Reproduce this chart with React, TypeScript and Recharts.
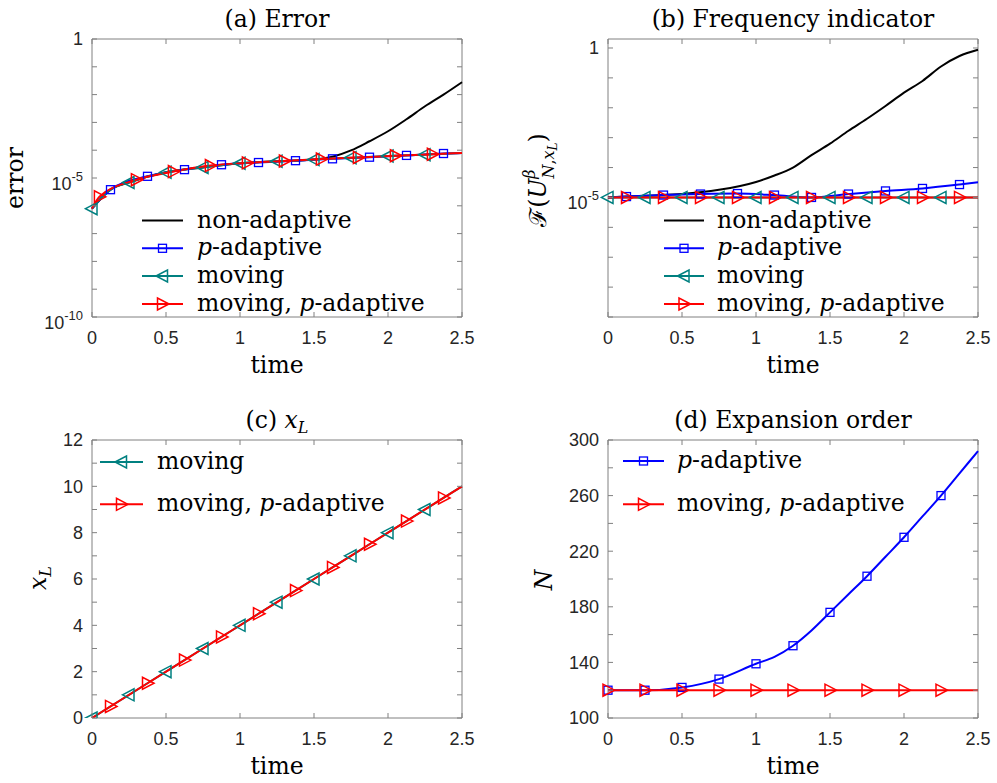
import React from 'react';
import { LineChart, Line, XAxis, YAxis, ReferenceArea } from 'recharts';

// ---- data ----
const TIME_TICKS = [0, 0.5, 1, 1.5, 2, 2.5];
const MARK_EVEN = [0, 0.25, 0.5, 0.75, 1, 1.25, 1.5, 1.75, 2, 2.25];
const MARK_ODD = [0.125, 0.375, 0.625, 0.875, 1.125, 1.375, 1.625, 1.875, 2.125, 2.375];
const MARK_A_RED = [0.05, 0.3, 0.55, 0.8, 1.05, 1.3, 1.55, 1.8, 2.05, 2.3];

// (a) error
const A_T_BLACK = [0, 0.125, 0.25, 0.5, 0.75, 1, 1.25, 1.5, 1.625, 1.75, 1.875, 2, 2.125, 2.25, 2.375, 2.5];
const A_BLACK = [7.9e-7, 3.8e-6, 6.9e-6, 1.6e-5, 2.4e-5, 3.4e-5, 4.0e-5, 4.6e-5, 5.8e-5, 9.8e-5, 2.1e-4, 4.8e-4, 1.3e-3, 3.8e-3, 1.0e-2, 2.8e-2];
const A_T_BLUE = [0, 0.125, 0.375, 0.625, 0.875, 1.125, 1.375, 1.625, 1.875, 2.125, 2.375, 2.5];
const A_BLUE = [7.9e-7, 3.8e-6, 1.15e-5, 2.0e-5, 3.0e-5, 3.6e-5, 4.2e-5, 4.9e-5, 5.6e-5, 6.5e-5, 7.6e-5, 7.9e-5];
const A_T_TEAL = [0, 0.125, 0.25, 0.5, 0.75, 1, 1.25, 1.5, 1.75, 2, 2.25, 2.5];
const A_TEAL = [7.9e-7, 3.8e-6, 6.9e-6, 1.6e-5, 2.4e-5, 3.4e-5, 4.0e-5, 4.6e-5, 5.4e-5, 6.2e-5, 6.9e-5, 7.9e-5];
const A_T_RED = [0, 0.05, 0.3, 0.55, 0.8, 1.05, 1.3, 1.55, 1.8, 2.05, 2.3, 2.5];
const A_RED = [7.9e-7, 2.1e-6, 8.7e-6, 1.7e-5, 2.8e-5, 3.5e-5, 4.1e-5, 4.8e-5, 5.5e-5, 6.3e-5, 7.2e-5, 7.9e-5];
const A_Y_TICKS = [1e-10, 1e-9, 1e-8, 1e-7, 1e-6, 1e-5, 1e-4, 1e-3, 1e-2, 1e-1, 1];
const A_Y_LABELS = [1e-10, 1e-5, 1];

// (b) frequency indicator
const B_T_BLACK = [0, 0.25, 0.5, 0.75, 1, 1.125, 1.25, 1.375, 1.5, 1.625, 1.75, 1.875, 2, 2.125, 2.25, 2.375, 2.5];
const B_BLACK = [1e-5, 1.15e-5, 1.3e-5, 1.8e-5, 3.3e-5, 5.4e-5, 1e-4, 2.6e-4, 6.3e-4, 1.7e-3, 4.3e-3, 1.15e-2, 3.2e-2, 7.9e-2, 0.24, 0.54, 0.87];
const B_T_BLUE = [0, 0.125, 0.375, 0.625, 0.875, 1.125, 1.375, 1.625, 1.875, 2.125, 2.375, 2.5];
const B_BLUE = [1e-5, 1.07e-5, 1.2e-5, 1.3e-5, 1.35e-5, 1.2e-5, 1.0e-5, 1.3e-5, 1.65e-5, 2.0e-5, 2.7e-5, 3.2e-5];
const B_T_TEAL = [0, 0.25, 0.5, 0.75, 1, 1.25, 1.5, 1.75, 2, 2.25, 2.5];
const B_TEAL = [1e-5, 1e-5, 1e-5, 1e-5, 1e-5, 1e-5, 1e-5, 1e-5, 1e-5, 1e-5, 1e-5];
const B_T_RED = [0, 0.125, 0.375, 0.625, 0.875, 1.125, 1.375, 1.625, 1.875, 2.125, 2.375, 2.5];
const B_RED = [1e-5, 1e-5, 1e-5, 1e-5, 1e-5, 1e-5, 1e-5, 1e-5, 1e-5, 1e-5, 1e-5, 1e-5];
const B_Y_TICKS = [1e-9, 1e-8, 1e-7, 1e-6, 1e-5, 1e-4, 1e-3, 1e-2, 1e-1, 1];
const B_Y_LABELS = [1e-5, 1];

// (c) x_L
const C_T_TEAL = [0, 0.25, 0.5, 0.75, 1, 1.25, 1.5, 1.75, 2, 2.25, 2.5];
const C_TEAL = [0, 1, 2, 3, 4, 5, 6, 7, 8, 9, 10];
const C_T_RED = [0, 0.125, 0.375, 0.625, 0.875, 1.125, 1.375, 1.625, 1.875, 2.125, 2.375, 2.5];
const C_RED = [0, 0.5, 1.5, 2.5, 3.5, 4.5, 5.5, 6.5, 7.5, 8.5, 9.5, 10];
const C_Y_TICKS = [0, 1, 2, 3, 4, 5, 6, 7, 8, 9, 10, 11, 12];
const C_Y_LABELS = [0, 2, 4, 6, 8, 10, 12];

// (d) expansion order
const D_T_BLUE = [0, 0.25, 0.5, 0.75, 1, 1.125, 1.25, 1.375, 1.5, 1.625, 1.75, 1.875, 2, 2.125, 2.25, 2.375, 2.5];
const D_BLUE = [120, 120, 122, 128, 139, 144, 152, 163, 176, 189, 202, 216, 230, 245, 260, 276, 292];
const D_T_RED = [0, 0.25, 0.5, 0.75, 1, 1.25, 1.5, 1.75, 2, 2.25, 2.5];
const D_RED = [120, 120, 120, 120, 120, 120, 120, 120, 120, 120, 120];
const D_Y_TICKS = [100, 120, 140, 160, 180, 200, 220, 240, 260, 280, 300];
const D_Y_LABELS = [100, 140, 180, 220, 260, 300];

// ---- styles ----
const PW = 370;
const PH = 278;
const AXIS = '#808080';
const TICK_FONT = '"Liberation Sans", Arial, sans-serif';
const SERIF = '"DejaVu Serif", serif';
const FS = 23.5;
const C_BLACK = '#000000';
const C_BLUE = '#0000ff';
const C_TEALC = '#008080';
const C_REDC = '#ff0000';

const pts = (ts: number[], vs: number[]) => ts.map((t, i) => ({ t, v: vs[i] }));

type Shape = 'none' | 'square' | 'left' | 'right';
interface Series { name: string; color: string; shape: Shape; data: { t: number; v: number }[]; marks: number[] }

const SER = {
  black: { name: 'non-adaptive', color: C_BLACK, shape: 'none' as Shape },
  blue: { name: 'p-adaptive', color: C_BLUE, shape: 'square' as Shape },
  teal: { name: 'moving', color: C_TEALC, shape: 'left' as Shape },
  red: { name: 'moving, p-adaptive', color: C_REDC, shape: 'right' as Shape },
};

const A_SERIES: Series[] = [
  { ...SER.black, data: pts(A_T_BLACK, A_BLACK), marks: [] },
  { ...SER.blue, data: pts(A_T_BLUE, A_BLUE), marks: MARK_ODD },
  { ...SER.teal, data: pts(A_T_TEAL, A_TEAL), marks: MARK_EVEN },
  { ...SER.red, data: pts(A_T_RED, A_RED), marks: MARK_A_RED },
];
const B_SERIES: Series[] = [
  { ...SER.black, data: pts(B_T_BLACK, B_BLACK), marks: [] },
  { ...SER.blue, data: pts(B_T_BLUE, B_BLUE), marks: MARK_ODD },
  { ...SER.teal, data: pts(B_T_TEAL, B_TEAL), marks: MARK_EVEN },
  { ...SER.red, data: pts(B_T_RED, B_RED), marks: MARK_ODD },
];
const C_SERIES: Series[] = [
  { ...SER.teal, data: pts(C_T_TEAL, C_TEAL), marks: MARK_EVEN },
  { ...SER.red, data: pts(C_T_RED, C_RED), marks: MARK_ODD },
];
const D_SERIES: Series[] = [
  { ...SER.blue, data: pts(D_T_BLUE, D_BLUE), marks: MARK_EVEN },
  { ...SER.red, data: pts(D_T_RED, D_RED), marks: MARK_EVEN },
];

function Marker({ shape, color, cx, cy }: { shape: Shape; color: string; cx: number; cy: number }) {
  if (shape === 'square')
    return <rect x={cx - 4} y={cy - 4} width={8} height={8} fill="none" stroke={color} strokeWidth={1.3} />;
  if (shape === 'left')
    return <polygon points={`${cx - 6.5},${cy} ${cx + 5},${cy - 6} ${cx + 5},${cy + 6}`} fill="none" stroke={color} strokeWidth={1.5} />;
  if (shape === 'right')
    return <polygon points={`${cx + 6.5},${cy} ${cx - 5},${cy - 6} ${cx - 5},${cy + 6}`} fill="none" stroke={color} strokeWidth={1.5} />;
  return null;
}

const markerDot = (s: Series) => (p: any) => {
  const on = s.marks.some((m) => Math.abs(m - p.payload.t) < 1e-6);
  if (!on || p.cx == null || p.cy == null) return <g key={`d${p.index}`} />;
  return (
    <g key={`d${p.index}`}>
      <Marker shape={s.shape} color={s.color} cx={p.cx} cy={p.cy} />
    </g>
  );
};

function XTick(props: any) {
  const { x, y, payload } = props;
  return (
    <g>
      <line x1={x} y1={y} x2={x} y2={y - 5} stroke={AXIS} />
      <line x1={x} y1={y - PH} x2={x} y2={y - PH + 5} stroke={AXIS} />
      <text x={x} y={y + 27} textAnchor="middle" fontFamily={TICK_FONT} fontSize={18} fill="#262626">
        {String(payload.value)}
      </text>
    </g>
  );
}

function YTick(props: any) {
  const { x, y, payload, labeled, log } = props;
  const v = payload.value;
  const show = labeled.some((l: number) => Math.abs(l - v) <= Math.abs(l) * 1e-6);
  let label = null;
  if (show) {
    if (log && v !== 1) {
      const e = Math.round(Math.log10(v));
      label = (
        <text x={x - 9} y={y + 12} textAnchor="end" fontFamily={TICK_FONT} fontSize={18} fill="#262626">
          <tspan>10</tspan>
          <tspan fontSize={13} dy={-9.5}>{String(e)}</tspan>
        </text>
      );
    } else {
      label = (
        <text x={x - 9} y={y} dy="0.35em" textAnchor="end" fontFamily={TICK_FONT} fontSize={18} fill="#262626">
          {String(v)}
        </text>
      );
    }
  }
  return (
    <g>
      <line x1={x} y1={y} x2={x + 5} y2={y} stroke={AXIS} />
      <line x1={x + PW} y1={y} x2={x + PW - 5} y2={y} stroke={AXIS} />
      {label}
    </g>
  );
}

interface PanelProps {
  left: number; top: number; mt: number; mr: number; yw: number; xh: number;
  log: boolean; yDomain: [number, number]; yTicks: number[]; yLabels: number[]; series: Series[];
}

function Panel({ left, top, mt, mr, yw, xh, log, yDomain, yTicks, yLabels, series }: PanelProps) {
  return (
    <div style={{ position: 'absolute', left, top }}>
      <LineChart width={497} height={390} margin={{ top: mt, right: mr, bottom: 0, left: 0 }}>
        <XAxis
          dataKey="t" type="number" domain={[0, 2.5]} ticks={TIME_TICKS} interval={0}
          height={xh} tickSize={0} tickMargin={0} axisLine={false} tickLine={false}
          tick={<XTick />}
          label={{ value: 'time', position: 'insideBottom', offset: xh - 56, fill: '#000', fontSize: FS, fontFamily: SERIF }}
        />
        <YAxis
          type="number" scale={log ? 'log' : 'linear'} domain={yDomain} allowDataOverflow ticks={yTicks} interval={0}
          width={yw} tickSize={0} tickMargin={0} axisLine={false} tickLine={false}
          tick={<YTick labeled={yLabels} log={log} />}
        />
        <ReferenceArea x1={0} x2={2.5} y1={yDomain[0]} y2={yDomain[1]} fill="none" stroke={AXIS} strokeWidth={1} ifOverflow="visible" />
        {series.map((s) => (
          <Line
            key={s.name}
            data={s.data}
            dataKey="v"
            type="monotone"
            stroke={s.color}
            strokeWidth={2}
            dot={s.shape === 'none' ? false : markerDot(s)}
            activeDot={false}
            isAnimationActive={false}
          />
        ))}
      </LineChart>
    </div>
  );
}

function LegendBox({ series, x0, x1, tx, rows }: { series: Series[]; x0: number; x1: number; tx: number; rows: number[] }) {
  return (
    <g>
      {series.map((s, i) => {
        const k = s.name.indexOf('p-adaptive');
        return (
          <g key={s.name}>
            <line x1={x0} y1={rows[i]} x2={x1} y2={rows[i]} stroke={s.color} strokeWidth={2} />
            <Marker shape={s.shape} color={s.color} cx={(x0 + x1) / 2} cy={rows[i]} />
            <text x={tx} y={rows[i] + 7} style={{ fontFamily: SERIF, fontSize: FS }} fill="#000">
              {k < 0 ? s.name : s.name.slice(0, k)}
              {k >= 0 && <tspan fontStyle="italic">p</tspan>}
              {k >= 0 && s.name.slice(k + 1)}
            </text>
          </g>
        );
      })}
    </g>
  );
}

export default function App() {
  const titleProps = { fontFamily: SERIF, fontSize: FS, fill: '#000', textAnchor: 'middle' as const };
  return (
    <div style={{ position: 'absolute', left: 0, top: 0, width: 997, height: 783, background: '#fff', overflow: 'hidden' }}>
      <Panel left={0} top={0} mt={39} mr={35} yw={92} xh={73} log yDomain={[1e-10, 1]} yTicks={A_Y_TICKS} yLabels={A_Y_LABELS} series={A_SERIES} />
      <Panel left={497} top={0} mt={39} mr={16} yw={111} xh={73} log yDomain={[1e-9, 2]} yTicks={B_Y_TICKS} yLabels={B_Y_LABELS} series={B_SERIES} />
      <Panel left={0} top={390} mt={50} mr={35} yw={92} xh={62} log={false} yDomain={[0, 12]} yTicks={C_Y_TICKS} yLabels={C_Y_LABELS} series={C_SERIES} />
      <Panel left={497} top={390} mt={50} mr={16} yw={111} xh={62} log={false} yDomain={[100, 300]} yTicks={D_Y_TICKS} yLabels={D_Y_LABELS} series={D_SERIES} />

      <svg width={997} height={783} style={{ position: 'absolute', left: 0, top: 0, pointerEvents: 'none' }}>
        {/* titles */}
        <text x={277} y={27} {...titleProps}>(a) Error</text>
        <text x={793} y={27} {...titleProps}>(b) Frequency indicator</text>
        <text x={277} y={427.5} {...titleProps}>
          <tspan>(c) </tspan>
          <tspan fontStyle="italic">x</tspan>
          <tspan fontStyle="italic" fontSize={16} dy={5}>L</tspan>
        </text>
        <text x={793} y={427.5} {...titleProps}>(d) Expansion order</text>

        {/* y labels */}
        <text transform="translate(23,178) rotate(-90)" {...titleProps}>error</text>
        <text transform="translate(546,180) rotate(-90)" {...titleProps}>
          <tspan>ℱ(</tspan>
          <tspan fontStyle="italic">U</tspan>
          <tspan fontStyle="italic" fontSize={16} dy={-11}>β</tspan>
          <tspan fontStyle="italic" fontSize={16} dx={-9} dy={19}>N</tspan>
          <tspan fontSize={16}>,</tspan>
          <tspan fontStyle="italic" fontSize={16}>x</tspan>
          <tspan fontStyle="italic" fontSize={12} dy={3}>L</tspan>
          <tspan dy={-11}>)</tspan>
        </text>
        <text transform="translate(46,578) rotate(-90)" {...titleProps}>
          <tspan fontStyle="italic">x</tspan>
          <tspan fontStyle="italic" fontSize={16} dy={5}>L</tspan>
        </text>
        <text transform="translate(552,580) rotate(-90)" {...titleProps}>
          <tspan fontStyle="italic">N</tspan>
        </text>

        {/* legends */}
        <LegendBox series={A_SERIES} x0={142} x1={183} tx={197} rows={[220.5, 248.3, 276, 304]} />
        <LegendBox series={B_SERIES} x0={664} x1={704} tx={717} rows={[220.5, 248.3, 276, 304]} />
        <LegendBox series={C_SERIES} x0={100} x1={143} tx={157} rows={[462, 504.3]} />
        <LegendBox series={D_SERIES} x0={623} x1={664} tx={677} rows={[461, 504.3]} />
      </svg>
    </div>
  );
}
